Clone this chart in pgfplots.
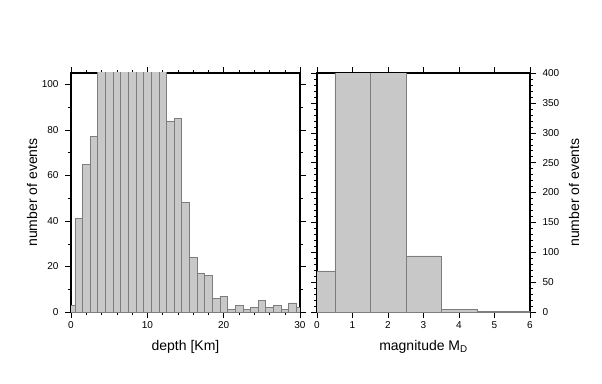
\documentclass[border=0pt]{standalone}
\usepackage{pgfplots}
\pgfplotsset{compat=1.18}
\usepackage{fontspec}
\setmainfont{Liberation Sans}
\definecolor{barfill}{RGB}{200,200,200}
\definecolor{baredge}{RGB}{125,125,125}
\begin{document}
\begin{tikzpicture}
\path (0pt,0pt) rectangle (602pt,383pt);
\pgfplotsset{
  hist/.style={
    scale only axis,
    /pgf/number format/assume math mode=true,
    axis line style={line width=1.2pt},
    tick align=outside,
    major tick length=6pt,
    minor tick length=3pt,
    every tick/.style={black,line width=0.4pt},
    tick label style={font=\fontsize{10}{12}\selectfont},
    label style={font=\fontsize{14}{16}\selectfont},
    ymin=0,
    clip=true,
  },
  barstyle/.style={ybar, bar width=1, bar shift=0pt, fill=barfill, draw=baredge, line width=0.5pt},
}
% left panel
\begin{axis}[hist,
  at={(71pt,71pt)}, anchor=south west,
  width=229pt, height=239pt,
  xmin=0, xmax=30, ymax=105,
  xtick={0,10,20,30},
  minor xtick={2,4,6,8,12,14,16,18,22,24,26,28},
  ytick={0,20,40,60,80,100},
  minor ytick={10,30,50,70,90},
  yticklabel style={xshift=-3pt},
  xlabel={depth [Km]},
  ylabel={number of events},
  xlabel style={at={(axis description cs:0.5,-0.159)}, anchor=base},
  ylabel style={at={(axis description cs:-0.17,0.5)}, anchor=center, rotate=0},
]
\addplot[barstyle] coordinates {
(0,3) (1,41) (2,65) (3,77) (4,120) (5,140) (6,150) (7,160) (8,150) (9,140)
(10,130) (11,120) (12,110) (13,84) (14,85) (15,48) (16,24) (17,17) (18,16)
(19,6) (20,7) (21,1) (22,3) (23,1) (24,2) (25,5) (26,2) (27,3) (28,1) (29,4) (30,2)
};
\end{axis}
% right panel
\begin{axis}[hist,
  at={(317pt,71pt)}, anchor=south west,
  width=213pt, height=239pt,
  xmin=0, xmax=6, ymax=400,
  xtick={0,1,2,3,4,5,6},
  ytick={0,50,100,150,200,250,300,350,400},
  minor ytick={10,20,30,40,60,70,80,90,110,120,130,140,160,170,180,190,210,220,230,240,260,270,280,290,310,320,330,340,360,370,380,390},
  yticklabel pos=right,
  yticklabel style={xshift=3pt},
  xlabel={magnitude M\textsubscript{D}},
  ylabel={number of events},
  xlabel style={at={(axis description cs:0.5,-0.159)}, anchor=base},
  ylabel style={at={(axis description cs:1.207,0.5)}, anchor=center, rotate=0},
]
\addplot[barstyle] coordinates {
(0,69) (1,450) (2,420) (3,94) (4,4) (5,1) (6,1)
};
\end{axis}
\end{tikzpicture}
\end{document}
